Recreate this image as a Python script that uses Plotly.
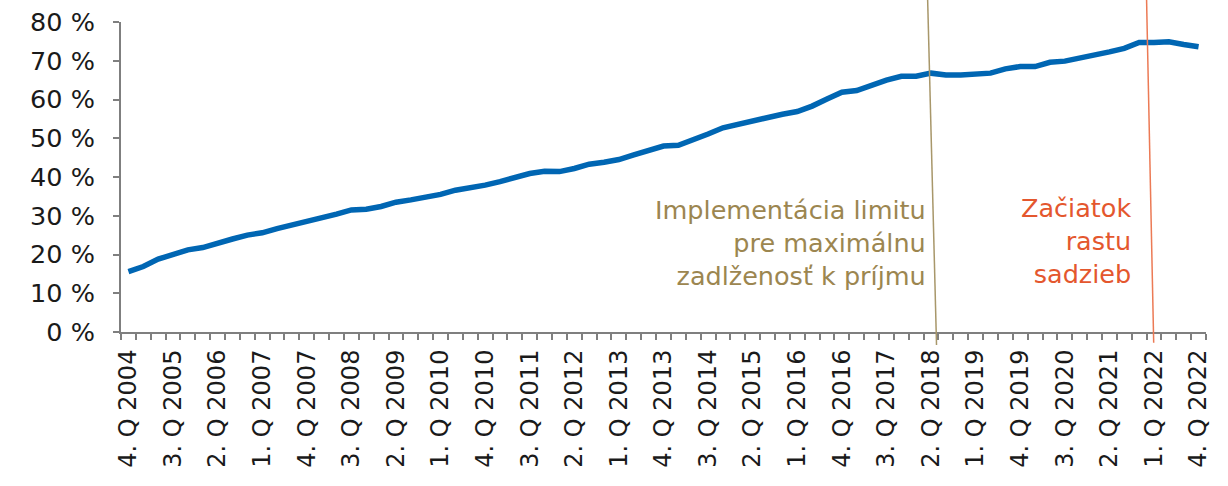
import plotly.graph_objects as go

# Quarterly ratio, 4Q 2004 – 4Q 2022 (per cent)
quarters = []
for year in range(2004, 2023):
    for q in range(1, 5):
        if year == 2004 and q < 4:
            continue
        quarters.append(f"{q}. Q {year}")

values = [
    15.6, 16.9, 18.8, 20.1, 21.2, 21.8, 23.0, 24.0, 25.0, 25.6,
    26.7, 27.6, 28.6, 29.2, 30.4, 31.5, 31.7, 32.4, 33.5, 34.1,
    34.7, 35.5, 36.6, 37.2, 37.9, 38.8, 39.9, 40.9, 41.5, 41.4,
    42.2, 43.3, 43.8, 44.5, 45.7, 47.0, 48.0, 48.2, 49.5, 51.1,
    52.7, 53.6, 54.6, 55.6, 56.2, 56.9, 58.3, 60.1, 61.9, 62.3,
    63.7, 65.0, 66.0, 66.0, 66.8, 66.3, 66.3, 66.7, 66.8, 67.9,
    68.5, 68.5, 69.6, 69.9, 70.6, 71.5, 72.3, 73.2, 74.7, 74.7,
    74.9, 74.2, 73.6,
]

y_ticks = [0, 10, 20, 30, 40, 50, 60, 70, 80]
y_tick_text = ["0 %", "10 %", "20 %", "30 %", "40 %", "50 %", "60 %", "70 %", "80 %"]

# Events marked on the chart
event_dti = "2. Q 2018"
event_rates = "1. Q 2022"
label_dti = "Implementácia limitu<br>pre maximálnu<br>zadlženosť k príjmu"
label_rates = "Začiatok<br>rastu<br>sadzieb"

idx = list(range(len(quarters)))
label_idx = idx[::3]
label_text = [quarters[i] for i in label_idx]

blue = "#0066B3"
gold = "#9C8650"
red = "#E4572E"
axis_grey = "#7F7F7F"
font_family = "DejaVu Sans, Verdana, sans-serif"

fig = go.Figure()
fig.add_trace(go.Scatter(
    x=idx, y=values, mode="lines",
    line=dict(color=blue, width=5.5, shape="linear"),
    showlegend=False, hoverinfo="skip",
))

i_dti = quarters.index(event_dti)
i_rates = quarters.index(event_rates)

# Slightly slanted marker lines for the two events
fig.add_shape(type="line", xref="x", yref="paper",
              x0=i_dti - 0.23, x1=i_dti + 0.37, y0=1.075, y1=-0.042,
              line=dict(color="#A8976A", width=1.5))
fig.add_shape(type="line", xref="x", yref="paper",
              x0=i_rates - 0.5, x1=i_rates - 0.02, y0=1.075, y1=-0.035,
              line=dict(color="#EC7A55", width=1.5))

fig.add_annotation(x=i_dti - 0.2, y=23.0, xref="x", yref="y",
                   text=label_dti, showarrow=False, align="right",
                   xanchor="right", yanchor="middle",
                   font=dict(family=font_family, size=25.5, color=gold))
fig.add_annotation(x=i_rates - 1.4, y=23.4, xref="x", yref="y",
                   text=label_rates, showarrow=False, align="right",
                   xanchor="right", yanchor="middle",
                   font=dict(family=font_family, size=25.5, color=red))

fig.update_layout(
    width=1228, height=486,
    margin=dict(l=121, r=22, t=22, b=154),
    paper_bgcolor="white", plot_bgcolor="white",
    font=dict(family=font_family, color="#1A1A1A"),
)

fig.update_xaxes(
    range=[-0.5, len(quarters) - 0.5], automargin=False,
    tickmode="array", tickvals=label_idx, ticktext=label_text,
    tickangle=-90, ticks="", ticklen=5,
    ticklabelstandoff=6,
    tickfont=dict(family=font_family, size=24, color="#1A1A1A"),
    showline=True, linecolor=axis_grey, linewidth=2,
    showgrid=False, zeroline=False,
    minor=dict(tickmode="array",
               tickvals=[i - 0.5 for i in range(len(quarters) + 1)],
               ticks="outside", ticklen=6, tickwidth=1.5,
               tickcolor=axis_grey, showgrid=False),
)
fig.update_yaxes(
    range=[0, 80], automargin=False,
    tickmode="array", tickvals=y_ticks, ticktext=y_tick_text,
    ticks="outside", ticklen=6, tickwidth=1.5,
    tickcolor=axis_grey,
    ticklabelstandoff=13,
    tickfont=dict(family=font_family, size=25.5, color="#1A1A1A"),
    showline=True, linecolor=axis_grey, linewidth=2,
    showgrid=False, zeroline=False,
)

fig.write_html("out.html")
